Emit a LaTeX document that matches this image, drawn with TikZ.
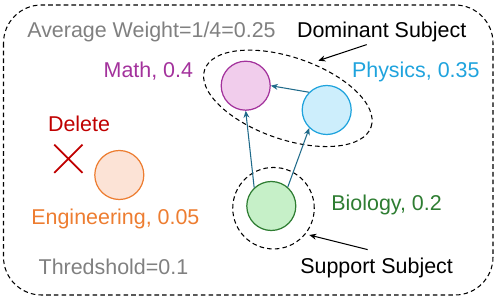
\documentclass[tikz,border=0pt]{standalone}
\usepackage{fontspec}
\setmainfont{Liberation Sans}
\usetikzlibrary{arrows.meta, shapes.geometric, shapes.misc}

\definecolor{mathcol}{HTML}{A3329C}
\definecolor{mathfill}{HTML}{F1CDEC}
\definecolor{physcol}{HTML}{1FA3DD}
\definecolor{physfill}{HTML}{CDEEFC}
\definecolor{biocol}{HTML}{2E7D32}
\definecolor{biofill}{HTML}{C6F0C8}
\definecolor{engcol}{HTML}{ED7D31}
\definecolor{engfill}{HTML}{FCE3D6}
\definecolor{linkcol}{HTML}{1F6A8A}
\definecolor{delcol}{HTML}{C00000}
\definecolor{greycol}{HTML}{808080}

\begin{document}
\begin{tikzpicture}[
    subject/.style={
        draw,
        circle,
        line width=0.7pt,
        minimum size=0.98cm,
        inner sep=0pt
    },
    groupbox/.style={
        draw,
        line width=0.6pt,
        dash pattern=on 2.6pt off 1.8pt
    },
    testo/.style={
        anchor=base west,
        inner sep=0pt,
        font=\fontsize{12.2}{14}\selectfont
    },
    link/.style={
        draw=linkcol,
        line width=0.6pt,
        -{Stealth[length=4pt, width=3.4pt]}
    },
    pointer/.style={
        draw=black,
        line width=0.6pt,
        -{Stealth[length=4pt, width=3.4pt]}
    }
]

    \useasboundingbox (0,0) rectangle (9.96,-6.1);

    % Riquadro esterno
    \draw[groupbox, rounded corners=0.76cm] (0.07,-0.1) rectangle (9.86,-5.9);

    % Testi in grigio
    \node[testo, text=greycol] (avgtag) at (0.54,-0.746) {Average Weight=1/4=0.25};
    \node[testo, text=greycol] (thrtag) at (0.766,-5.5) {Thredshold=0.1};

    % Materie
    \node[subject, draw=mathcol, fill=mathfill] (math) at (4.914,-1.714) {};
    \node[subject, draw=physcol, fill=physfill] (physics) at (6.534,-2.2) {};
    \node[subject, draw=biocol, fill=biofill] (biology) at (5.426,-4.12) {};
    \node[subject, draw=engcol, fill=engfill] (engineering) at (2.386,-3.5) {};

    % Etichette delle materie
    \node[testo, text=mathcol] (mathtag) at (2.066,-1.546) {Math, 0.4};
    \node[testo, text=physcol] (phystag) at (7.034,-1.546) {Physics, 0.35};
    \node[testo, text=biocol] (biotag) at (6.62,-4.22) {Biology, 0.2};
    \node[testo, text=engcol] (engtag) at (0.62,-4.5) {Engineering, 0.05};

    % Materia eliminata
    \node[testo, text=delcol] (deltag) at (0.954,-2.634) {Delete};
    \node[draw=delcol, cross out, line width=1pt, minimum size=0.53cm, inner sep=0pt] (cross) at (1.366,-3.175) {};

    % Gruppi tratteggiati
    \node[groupbox, ellipse, rotate=-19, minimum width=3.52cm, minimum height=1.64cm, inner sep=0pt] (dominant) at (5.757,-1.967) {};
    \node[groupbox, circle, minimum size=1.63cm, inner sep=0pt] (support) at (5.47,-4.164) {};

    % Frecce tra le materie
    \draw[link] (physics.135) -- (math.east);
    \draw[link] (biology.133) -- (math.south);
    \draw[link] (biology.49) -- (physics.226);

    % Didascalie dei gruppi
    \node[testo] (domtag) at (5.934,-0.746) {Dominant Subject};
    \node[testo] (suptag) at (6.0,-5.48) {Support Subject};

    \coordinate (domtip) at (6.366,-1.214);
    \coordinate (suptip) at (6.186,-4.70);
    \draw[pointer] ([shift={(-0.3,-0.05)}]domtag.south) -- (domtip);
    \draw[pointer] ([shift={(-0.18,0.17)}]suptag.north) -- (suptip);

\end{tikzpicture}
\end{document}
